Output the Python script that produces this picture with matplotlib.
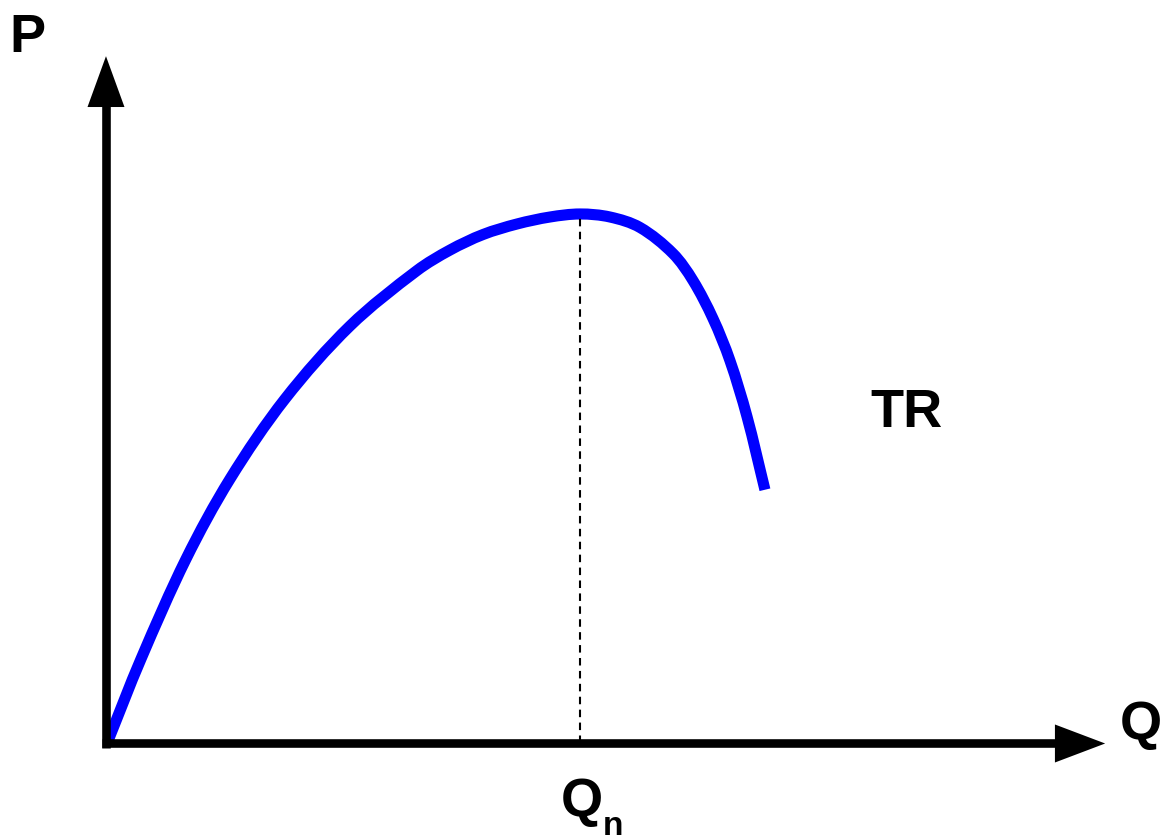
import matplotlib
matplotlib.use("Agg")
import matplotlib.pyplot as plt
import numpy as np
from matplotlib.patches import Polygon, PathPatch
from matplotlib.path import Path

# Total revenue curve (Q, P)
q_vals = [0.021, 0.369, 0.844, 1.308, 1.888, 2.574, 3.281, 3.629, 3.977,
          4.336, 4.684, 5.000, 5.316, 5.633, 5.981, 6.192, 6.403, 6.582,
          6.762, 6.951]
p_vals = [0.047, 1.596, 3.484, 4.995, 6.506, 7.885, 8.932, 9.319, 9.612,
          9.811, 9.943, 10.000, 9.943, 9.745, 9.253, 8.743, 8.025, 7.231,
          6.172, 4.792]
q_n = 5.0
p_peak = 10.0
curve_label = "TR"
x_label = "Q"
y_label = "P"

fig = plt.figure(figsize=(11.63, 8.37), dpi=100)
ax = fig.add_axes([0, 0, 1, 1])
ax.set_xlim(-1.118, 11.150)
ax.set_ylim(-1.747, 14.060)
ax.axis("off")

font = dict(family="Liberation Sans", weight="bold", color="black")

# axes lines
ax.plot([0, 0], [-0.08, 12.1], color="black", lw=6.2, solid_capstyle="butt")
ax.plot([-0.045, 10.05], [0, 0], color="black", lw=6.2, solid_capstyle="butt")
# arrow heads
ax.add_patch(Polygon([[0, 12.98], [-0.195, 12.02], [0.195, 12.02]],
                     closed=True, color="black", lw=0))
ax.add_patch(Polygon([[10.54, 0], [10.01, 0.359], [10.01, -0.359]],
                     closed=True, color="black", lw=0))

# dashed line at Qn
ax.plot([q_n, q_n], [0, p_peak], color="black", lw=1.5,
        linestyle=(0, (3.6, 2.6)))

# TR curve: smooth Bezier path through the read points
# (chord-length weighted Catmull-Rom tangents, lengths measured on screen)
pts = np.column_stack([q_vals, p_vals])
scr = ax.transData.transform(pts)
n = len(pts)
d = np.hypot(*np.diff(scr, axis=0).T)
verts = [pts[0]]
codes = [Path.MOVETO]
for i in range(n - 1):
    if i > 0:
        t1 = (pts[i + 1] - pts[i - 1]) * d[i] / (3.0 * (d[i - 1] + d[i]))
    else:
        t1 = (pts[1] - pts[0]) / 3.0
    if i + 2 < n:
        t2 = (pts[i + 2] - pts[i]) * d[i] / (3.0 * (d[i] + d[i + 1]))
    else:
        t2 = (pts[i + 1] - pts[i]) / 3.0
    verts += [pts[i] + t1, pts[i + 1] - t2, pts[i + 1]]
    codes += [Path.CURVE4, Path.CURVE4, Path.CURVE4]
ax.add_patch(PathPatch(Path(verts, codes), facecolor="none",
                       edgecolor="#0000ff", lw=8.0, capstyle="butt",
                       joinstyle="round"))

# labels
ax.text(-1.02, 13.08, y_label, fontsize=39, ha="left", va="baseline", **font)
ax.text(10.69, 0.10, x_label, fontsize=39, ha="left", va="baseline", **font)
ax.text(8.06, 6.0, curve_label, fontsize=39, ha="left", va="baseline", **font)
ax.text(4.80, -1.35, "Q", fontsize=39, ha="left", va="baseline", **font)
ax.text(5.24, -1.70, "n", fontsize=24, ha="left", va="baseline", **font)

fig.savefig("out.png", dpi=100)
